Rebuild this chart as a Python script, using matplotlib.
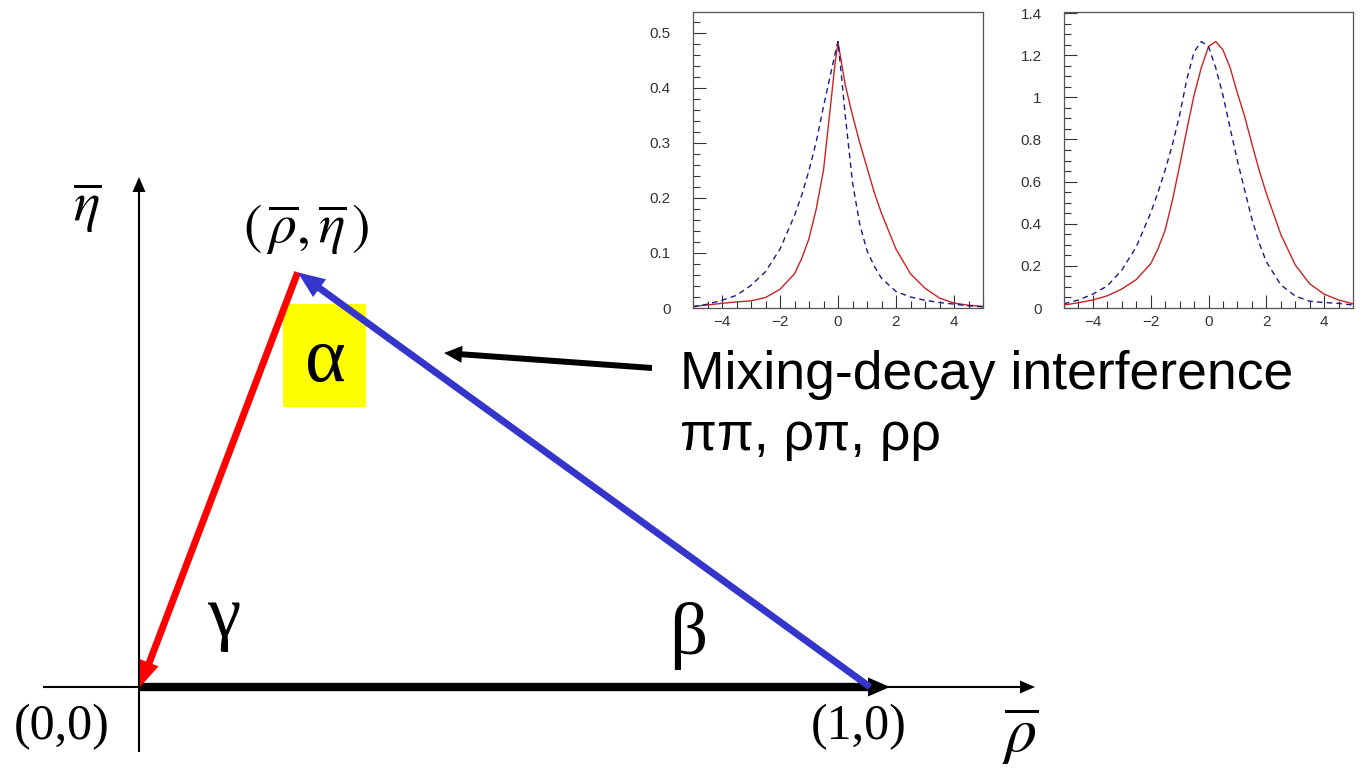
import matplotlib
matplotlib.use("Agg")
import matplotlib.pyplot as plt
import numpy as np
from matplotlib.patches import Rectangle, Polygon
from matplotlib.ticker import MultipleLocator, FuncFormatter

plt.rcParams['font.family'] = ['Liberation Sans', 'DejaVu Sans']
plt.rcParams['mathtext.fontset'] = 'stix'

# --- unitarity triangle (rho-bar, eta-bar plane) ---
ORIGIN = (0.0, 0.0)
VERTEX = (1.0, 0.0)
APEX = (0.216, 0.568)

# --- inset 1: peaked distributions ---
LEFT_X = [-5, -4.5, -4, -3.5, -3, -2.5, -2, -1.5, -1.25, -1, -0.75, -0.5, -0.25, -0.1, 0,
          0.1, 0.25, 0.5, 0.75, 1, 1.25, 1.5, 2, 2.5, 3, 3.5, 4, 4.5, 5]
LEFT_RED = [0.003, 0.0055, 0.0085, 0.011, 0.013, 0.019, 0.034, 0.062, 0.09, 0.126, 0.18, 0.25,
            0.371, 0.445, 0.482,
            0.452, 0.405, 0.35, 0.30, 0.255, 0.21, 0.172, 0.107, 0.062, 0.036, 0.018, 0.009,
            0.005, 0.003]
LEFT_BLUE = [0.002, 0.007, 0.014, 0.023, 0.041, 0.066, 0.107, 0.168, 0.205, 0.25, 0.302, 0.366,
             0.426, 0.462, 0.484,
             0.432, 0.35, 0.228, 0.152, 0.104, 0.076, 0.054, 0.03, 0.02, 0.014, 0.01, 0.007,
             0.004, 0.002]

# --- inset 2: broader distributions ---
RIGHT_X = [-5, -4.5, -4, -3.5, -3, -2.5, -2, -1.75, -1.5, -1.25, -1, -0.75, -0.5, -0.25, 0,
           0.25, 0.5, 0.75, 1, 1.25, 1.5, 1.75, 2, 2.5, 3, 3.5, 4, 4.5, 5]
RIGHT_RED = [0.014, 0.025, 0.038, 0.058, 0.09, 0.135, 0.21, 0.28, 0.37, 0.51, 0.675, 0.846,
             1.01, 1.14, 1.241,
             1.265, 1.225, 1.14, 1.02, 0.91, 0.78, 0.655, 0.545, 0.35, 0.205, 0.115, 0.066,
             0.038, 0.02]
RIGHT_BLUE = [0.02, 0.038, 0.066, 0.105, 0.18, 0.29, 0.452, 0.548, 0.655, 0.775, 0.915, 1.085,
              1.215, 1.265, 1.241,
              1.14, 1.01, 0.853, 0.70, 0.56, 0.423, 0.31, 0.22, 0.11, 0.057, 0.032, 0.026,
              0.022, 0.014]

W, H = 1361, 770
PX_ORIGIN = (140, 687)   # pixel position of (0,0)
SCALE = 730.0            # pixels per unit (same in x and y)

fig = plt.figure(figsize=(W / 100, H / 100), dpi=100)
fig.patch.set_facecolor('white')


def pd(x, y):
    """pixel position -> triangle data coords"""
    return ((x - PX_ORIGIN[0]) / SCALE, (PX_ORIGIN[1] - y) / SCALE)


ax = fig.add_axes([0, 0, 1, 1])
ax.set_xlim(-PX_ORIGIN[0] / SCALE, (W - PX_ORIGIN[0]) / SCALE)
ax.set_ylim(-(H - PX_ORIGIN[1]) / SCALE, PX_ORIGIN[1] / SCALE)
ax.axis('off')


def arrow(tail, tip, color, lw, head_len, head_w, z):
    """shaft as a thick line, head as a filled triangle (head sizes in pixels)"""
    tail = np.asarray(tail, float)
    tip = np.asarray(tip, float)
    u = (tip - tail) / np.hypot(*(tip - tail))
    n = np.array([-u[1], u[0]])
    base = tip - u * head_len / SCALE
    shaft_end = tip - u * head_len * 0.6 / SCALE
    ax.plot([tail[0], shaft_end[0]], [tail[1], shaft_end[1]], color=color, lw=lw,
            solid_capstyle='butt', zorder=z)
    ax.add_patch(Polygon([tip, base + n * head_w / 2 / SCALE, base - n * head_w / 2 / SCALE],
                         closed=True, color=color, lw=0, zorder=z))


# coordinate axes
arrow(pd(43, 687), pd(1035, 687), 'black', 1.5, 15, 13, 1)
arrow(pd(139, 752), pd(139, 177), 'black', 1.5, 15, 13, 1)

# yellow box behind alpha
ax.add_patch(Rectangle(pd(283, 407), 83 / SCALE, 103 / SCALE, color='#ffff00', lw=0, zorder=1))

# triangle sides (black arrow head overshoots the (1,0) corner a little)
black_tip = (VERTEX[0] + 20 / SCALE, VERTEX[1])
arrow(ORIGIN, black_tip, 'black', 6, 22, 19, 2)
arrow(APEX, ORIGIN, '#ff0000', 5, 26, 20, 3)
arrow(VERTEX, APEX, '#3535cc', 5, 27, 22, 4)

# labels
ax.text(*pd(87, 208), r'$\overline{\eta}$', fontsize=40, ha='center', va='center')
ax.text(*pd(306, 230), r'$(\,\overline{\rho},\overline{\eta}\,)$', fontsize=40,
        ha='center', va='center')
ax.text(*pd(1020, 737), r'$\overline{\rho}$', fontsize=46, ha='center', va='center')
ax.text(*pd(62, 727), '(0,0)', fontsize=36, ha='center', va='center', family='Liberation Serif')
ax.text(*pd(859, 727), '(1,0)', fontsize=36, ha='center', va='center', family='Liberation Serif')
ax.text(*pd(325, 362), 'α', fontsize=56, ha='center', va='center', family='Liberation Serif', zorder=5)
ax.text(*pd(224, 618), 'γ', fontsize=54, ha='center', va='center', family='Liberation Serif')
ax.text(*pd(688, 636), 'β', fontsize=54, ha='center', va='center', family='Liberation Serif')

arrow(pd(652, 368), pd(444, 353), 'black', 4.3, 18, 17, 5)
ax.text(*pd(680, 389), 'Mixing-decay interference', fontsize=38.5, ha='left', va='baseline')
ax.text(*pd(680, 450), 'ππ, ρπ, ρρ', fontsize=38.5, ha='left', va='baseline')


# insets
def style_inset(a, ymax, ymajor, yminor):
    a.set_xlim(-5, 5)
    a.set_ylim(0, ymax)
    a.xaxis.set_major_locator(MultipleLocator(2))
    a.xaxis.set_minor_locator(MultipleLocator(0.5))
    a.yaxis.set_major_locator(MultipleLocator(ymajor))
    a.yaxis.set_minor_locator(MultipleLocator(yminor))
    a.yaxis.set_major_formatter(FuncFormatter(lambda v, p: f'{v:g}'))
    a.tick_params(which='both', direction='in', top=False, right=False,
                  colors='#333333', labelsize=11, width=0.8)
    a.tick_params(which='major', length=9.5)
    a.tick_params(which='minor', length=5)
    a.tick_params(axis='y', pad=16)
    a.tick_params(axis='x', pad=5)
    for s in a.spines.values():
        s.set_color('#555555')
        s.set_linewidth(0.9)


axL = fig.add_axes([693 / W, 1 - 308 / H, 290 / W, 296 / H])
axL.plot(LEFT_X, LEFT_RED, color='#cc2222', lw=1.0)
axL.plot(LEFT_X, LEFT_BLUE, color='#1a1a8c', lw=1.0, ls=(0, (4, 3)))
style_inset(axL, 0.5375, 0.1, 0.02)

axR = fig.add_axes([1064 / W, 1 - 308 / H, 289 / W, 296 / H])
axR.plot(RIGHT_X, RIGHT_RED, color='#cc2222', lw=1.0)
axR.plot(RIGHT_X, RIGHT_BLUE, color='#1a1a8c', lw=1.0, ls=(0, (4, 3)))
style_inset(axR, 1.405, 0.2, 0.05)

fig.savefig('out.png', dpi=100)
